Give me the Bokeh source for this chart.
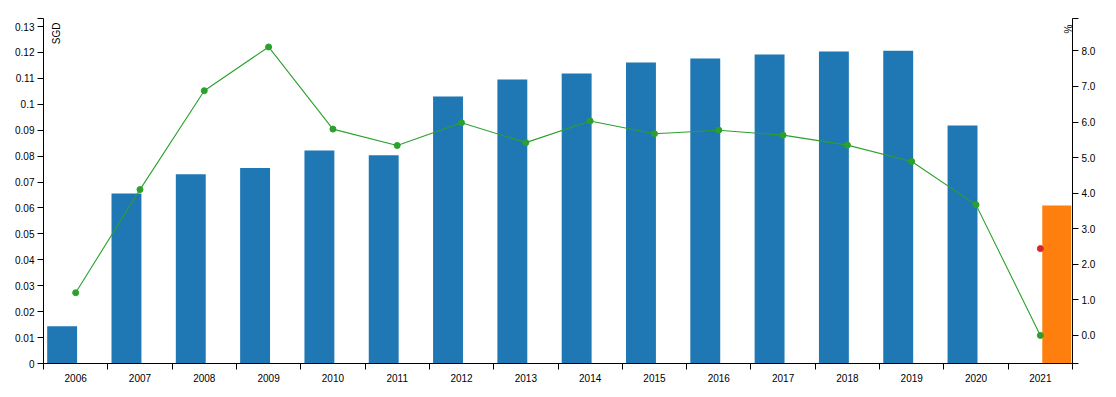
from bokeh.plotting import figure
from bokeh.models import (Range1d, LinearAxis, FixedTicker, NumeralTickFormatter,
                          Label, ColumnDataSource)
from bokeh.embed import file_html
from bokeh.resources import INLINE

# ---------------- data ----------------
years = ["2006", "2007", "2008", "2009", "2010", "2011", "2012", "2013",
         "2014", "2015", "2016", "2017", "2018", "2019", "2020", "2021"]
dividend_years = years[:15]
dividend_sgd = [0.0144, 0.0656, 0.0730, 0.0754, 0.0822, 0.0803, 0.1030, 0.1096,
                0.1119, 0.1161, 0.1177, 0.1192, 0.1204, 0.1207, 0.0918]
forecast_years = ["2021"]
forecast_sgd = [0.0610]
yield_pct = [1.20, 4.10, 6.88, 8.11, 5.80, 5.34, 5.98, 5.42, 6.03, 5.67,
             5.77, 5.63, 5.35, 4.89, 3.67, 0.00]
forecast_yield_pct = [2.44]
left_ticks = [round(i * 0.01, 2) for i in range(14)]
right_ticks = [0, 1, 2, 3, 4, 5, 6, 7, 8]
left_domain = (0.0, 0.1331)
right_domain = (-0.79, 8.91)

FONT = "Liberation Sans"
FS = "10px"
BLUE, ORANGE, GREEN, RED = "#1f77b4", "#ff7f0e", "#2ca02c", "#d62728"

idx = {y: i for i, y in enumerate(years)}

bar_src = ColumnDataSource(dict(x=[idx[y] + 0.29 for y in dividend_years], top=dividend_sgd))
fc_src = ColumnDataSource(dict(x=[idx[y] + 0.755 for y in forecast_years], top=forecast_sgd))
line_src = ColumnDataSource(dict(x=[idx[y] + 0.5 for y in years], y=yield_pct))
fcp_src = ColumnDataSource(dict(x=[idx[y] + 0.5 for y in forecast_years], y=forecast_yield_pct))

p = figure(width=1110, height=393, output_backend="svg", toolbar_location=None,
           x_range=Range1d(0, len(years)), y_range=Range1d(*left_domain),
           min_border_left=43, min_border_right=38, min_border_top=18, min_border_bottom=30)
p.extra_y_ranges = {"pct": Range1d(*right_domain)}
p.outline_line_color = None
p.xgrid.grid_line_color = None
p.ygrid.grid_line_color = None
p.background_fill_color = "white"
p.border_fill_color = "white"

# bars
p.vbar(x="x", top="top", bottom=0, width=0.465, source=bar_src, fill_color=BLUE, line_color=None)
p.vbar(x="x", top="top", bottom=0, width=0.45, source=fc_src, fill_color=ORANGE, line_color=None)

# yield line
p.line(x="x", y="y", source=line_src, y_range_name="pct", line_color=GREEN, line_width=1.1)
p.scatter(x="x", y="y", source=line_src, y_range_name="pct", size=6,
          fill_color=GREEN, line_color=GREEN)
p.scatter(x="x", y="y", source=fcp_src, y_range_name="pct", size=6,
          fill_color=RED, line_color=RED)

def style_axis(ax, standoff):
    ax.axis_line_color = "black"
    ax.axis_line_width = 1
    ax.major_tick_line_color = "black"
    ax.major_tick_in = 0
    ax.major_tick_out = 6
    ax.minor_tick_line_color = "black"
    ax.minor_tick_in = 0
    ax.minor_tick_out = 6
    ax.major_label_text_font = FONT
    ax.major_label_text_font_size = FS
    ax.major_label_text_color = "black"
    ax.major_label_standoff = standoff

# x axis
xa = p.xaxis[0]
xa.ticker = FixedTicker(ticks=[i + 0.5 for i in range(len(years))],
                        minor_ticks=list(range(len(years) + 1)))
xa.major_label_overrides = {i + 0.5: y for i, y in enumerate(years)}
style_axis(xa, 4)
xa.major_tick_line_color = None

# left axis
ya = p.yaxis[0]
ya.ticker = FixedTicker(ticks=left_ticks, minor_ticks=[left_domain[1] - 1e-7])
ya.formatter = NumeralTickFormatter(format="0.[00]")
style_axis(ya, 3)

# right axis
ra = LinearAxis(y_range_name="pct",
                ticker=FixedTicker(ticks=right_ticks,
                                   minor_ticks=[right_domain[0] + 1e-6, right_domain[1] - 1e-6]),
                formatter=NumeralTickFormatter(format="0.0"))
style_axis(ra, 3)
p.add_layout(ra, "right")

# axis titles
p.add_layout(Label(x=0, y=left_domain[1], x_offset=13, y_offset=-4, text="SGD",
                   angle=90, angle_units="deg", text_align="right",
                   text_baseline="alphabetic", text_font=FONT, text_font_size=FS,
                   text_color="black"))
p.add_layout(Label(x=len(years), y=left_domain[1], x_offset=-4.5, y_offset=-6, text="%",
                   angle=90, angle_units="deg", text_align="right",
                   text_baseline="alphabetic", text_font=FONT, text_font_size=FS,
                   text_color="black"))

open("out.html", "w").write(file_html(p, INLINE))
